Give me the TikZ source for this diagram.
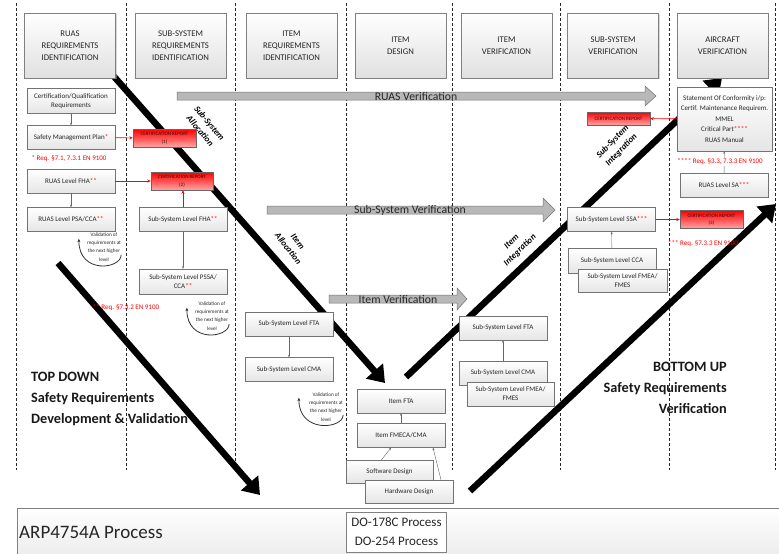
\documentclass[tikz,border=0pt]{standalone}
\usepackage{fontspec}
\setmainfont{Carlito}
\usetikzlibrary{arrows.meta,positioning,shadows}
\newcommand{\sz}[2]{\fontsize{#1}{#2}\selectfont}
\newcommand{\rs}[1]{\textcolor{red}{#1}}
% gray block arrow: x start, x tip, y centre, head length, head half width
\newcommand{\verarrow}[5]{%
  \draw[varrow] (#1,#3-4) -- (#2-#4,#3-4) -- (#2-#4,#3-#5) -- (#2,#3)
    -- (#2-#4,#3+#5) -- (#2-#4,#3+4) -- (#1,#3+4) -- cycle;}

\begin{document}
\begin{tikzpicture}[x=1pt,y=-1pt,
  hdr/.style={draw=black!50, top color=white, bottom color=black!12,
              minimum width=91pt, minimum height=65pt, align=center,
              text=black!85, font=\sz{8.7}{12},
              drop shadow={shadow xshift=1pt, shadow yshift=-1pt, fill=black!30}},
  blk/.style={draw=black!55, top color=white, bottom color=black!10,
              minimum width=88pt, minimum height=24pt, align=center,
              inner sep=1pt, text=black!85, font=\sz{7}{9},
              drop shadow={shadow xshift=0.8pt, shadow yshift=-0.8pt, fill=black!30}},
  cert/.style={draw=black!60, top color=red, bottom color=red!35,
               minimum width=63pt, minimum height=18pt, align=center,
               inner sep=0.5pt, text=black!75!red, font=\sz{5}{7.5},
               drop shadow={shadow xshift=0.8pt, shadow yshift=-0.8pt, fill=black!30}},
  note/.style={text=red, font=\sz{7}{8}, inner sep=0pt},
  valid/.style={align=center, text=black!85, font=\sz{5.2}{8.2}, inner sep=0pt},
  big/.style={font=\bfseries\sz{14.3}{21}, inner sep=0pt, text=black!90},
  lbl/.style={font=\bfseries\itshape\sz{8.8}{12}, align=center, inner sep=0pt},
  col/.style={dash pattern=on 3pt off 2pt, line width=0.7pt, black!85},
  diag/.style={line width=6.5pt, -{Triangle[length=16pt,width=22pt]}},
  varrow/.style={draw=black!55, fill=black!28, line width=0.5pt},
  vtxt/.style={font=\sz{11.7}{13}, text=black!85, inner sep=0pt},
  flow/.style={draw=black!60, line width=0.4pt, -{Stealth[length=2.5pt,width=2pt]}},
  rflow/.style={draw=red, line width=0.6pt, -{Stealth[length=3.5pt,width=3pt]}},
  valarr/.style={draw=black!80, line width=0.8pt, -{Stealth[length=3.5pt,width=3pt]}}
]
\useasboundingbox (0,0) rectangle (779,554);

% column separators
\foreach \cx in {16,126,235,346,452,560,669,775}
  \draw[col] (\cx,3) -- (\cx,470);

% verification arrows
\verarrow{177}{656}{96}{11}{10}
\verarrow{267}{555}{210}{12}{12}
\verarrow{329}{467}{299}{10}{11}
\node[vtxt] (ruasVer) at (416,96) {RUAS Verification};
\node[vtxt] (subVer) at (410,210) {Sub-System Verification};
\node[vtxt] (itemVer) at (398,299) {Item Verification};

% V-shape
\draw[diag] (110,72) -- (385,383);
\draw[diag] (58,263) -- (260,495);
\draw[diag] (406,377) -- (722,78);
\draw[diag] (470,491) -- (776,204);
\node[lbl, rotate=-50] (ssAlloc) at (205,127) {Sub-System\\Allocation};
\node[lbl, rotate=-52] (itAlloc) at (293,245) {Item\\Allocation};
\node[lbl, rotate=44] (itInteg) at (516,246) {Item\\Integration};
\node[lbl, rotate=46] (ssInteg) at (617,146) {Sub-System\\Integration};

% headers
\node[hdr] (hRuas) at (70,45.5) {RUAS\\REQUIREMENTS\\IDENTIFICATION};
\node[hdr] (hSub) at (180.5,45.5) {SUB-SYSTEM\\REQUIREMENTS\\IDENTIFICATION};
\node[hdr] (hItReq) at (291.5,45.5) {ITEM\\REQUIREMENTS\\IDENTIFICATION};
\node[hdr] (hItDes) at (400.5,45.5) {ITEM\\DESIGN};
\node[hdr] (hItVer) at (506.5,45.5) {ITEM\\VERIFICATION};
\node[hdr] (hSubVer) at (613,45.5) {SUB-SYSTEM\\VERIFICATION};
\node[hdr] (hAc) at (722.5,45.5) {AIRCRAFT\\VERIFICATION};

% RUAS requirements
\node[blk, minimum height=25pt] (certReq) at (71,101) {Certification/Qualification\\Requirements};
\node[blk] (smp) at (71,137.5) {Safety Management Plan\rs{*}};
\node[note] (note1) at (69,159) {* Req. \S7.1, 7.3.1 EN 9100};
\node[blk] (ruasFha) at (71,181) {RUAS Level FHA\rs{**}};
\node[blk] (ruasPsa) at (71,219.5) {RUAS Level PSA/CCA\rs{**}};
\node[valid] (val1) at (104,247) {Validation of\\requirements at\\the next higher\\level};

% sub-system requirements
\node[cert] (rep1) at (164.5,138) {CERTIFICATION REPORT\\(1)};
\node[cert, minimum width=62pt] (rep2) at (182,181) {CERTIFICATION REPORT\\(2)};
\node[blk] (ssFha) at (183,219.5) {Sub-System Level FHA\rs{**}};
\node[blk, minimum height=25pt] (ssPssa) at (183,281.5) {Sub-System Level PSSA/\\CCA\rs{**}};
\node[note] (note2) at (126,308) {** Req. \S7.3.2 EN 9100};
\node[valid] (val2) at (212,316) {Validation of\\requirements at\\the next higher\\level};

% item requirements
\node[blk] (ssFta) at (289,324) {Sub-System Level FTA};
\node[blk] (ssCma) at (289,369.5) {Sub-System Level CMA};
\node[valid] (val3) at (326,407) {Validation of\\requirements at\\the next higher\\level};

% item design
\node[blk] (itemFta) at (401,401) {Item FTA};
\node[blk] (itemFmeca) at (401,435.5) {Item FMECA/CMA};
\node[blk, minimum width=87pt, minimum height=23pt] (swDes) at (389.5,471.5) {Software Design};
\node[blk, minimum height=23pt] (hwDes) at (409,491.5) {Hardware Design};

% item verification
\node[blk] (ssFta2) at (503,328) {Sub-System Level FTA};
\node[blk] (ssCma2) at (503,373) {Sub-System Level CMA};
\node[blk, minimum width=87pt] (ssFmea2) at (510.5,394) {Sub-System Level FMEA/\\FMES};

% sub-system verification
\node[cert, minimum height=13pt] (rep0) at (618.5,118.5) {CERTIFICATION REPORT};
\node[blk] (ssSsa) at (611.5,219.5) {Sub-System Level SSA\rs{***}};
\node[blk, minimum height=25pt] (ssCca) at (612,260.5) {Sub-System Level CCA};
\node[blk, minimum width=89pt, minimum height=23pt] (ssFmea) at (622.5,280.5) {Sub-System Level FMEA/\\FMES};

% aircraft verification
\node[blk, minimum width=95pt, minimum height=64pt, font=\sz{7}{10.5}] (soc) at (724.5,119)
  {Statement Of Conformity i/p:\\Certif. Maintenance Requirem.\\MMEL\\Critical Part\rs{****}\\RUAS Manual};
\node[blk] (ruasSa) at (724,185) {RUAS Level SA\rs{***}};
\node[cert] (rep3) at (711.5,219.5) {CERTIFICATION REPORT\\(3)};
\node[note] (note3) at (703,244) {*** Req. \S7.3.3 EN 9100};

% links
\draw[flow] (certReq) -- (smp);
\draw[flow] (ruasFha) -- (ruasPsa);
\draw[rflow] (smp) -- (rep1);
\draw[rflow] (ruasFha) -- (rep2);
\draw[rflow] (ssFha.north) -- (ssFha.north |- rep2.south);
\draw[flow] (ssFha) -- (ssPssa);
\draw[flow] (ssFta) -- (ssCma);
\draw[flow] (itemFmeca) -- (itemFta);
\draw[flow] ([xshift=-8pt]swDes.north) -- ([xshift=-10pt]itemFmeca.south);
\draw[flow] ([xshift=32pt]hwDes.north) -- ([xshift=32pt]itemFmeca.south);
\draw[flow] (ssCma2) -- (ssFta2);
\draw[flow] (ssCca) -- (ssSsa);
\draw[rflow] (ssSsa) -- (rep3);
\draw[flow] (ruasSa) -- (soc);
\node[note, fill=white, inner sep=0.5pt] (note4) at (720,162) {**** Req. \S3.3, 7.3.3 EN 9100};
\draw[rflow] (soc) -- (rep0);

% validation loops
\draw[valarr] ([yshift=-8pt]val1.east) .. controls +(0,14) and +(0,36) .. ([xshift=-8pt,yshift=-6pt]val1.north west);
\draw[valarr] ([yshift=-8pt]val2.east) .. controls +(0,14) and +(0,36) .. ([xshift=-8pt,yshift=-6pt]val2.north west);
\draw[valarr] ([yshift=-8pt]val3.east) .. controls +(0,14) and +(0,36) .. ([xshift=-10pt,yshift=-5pt]val3.north west);

% headline texts
\node[big, anchor=north west, align=left] (topDown) at (31,372)
  {TOP DOWN\\Safety Requirements\\Development \& Validation};
\node[big, anchor=north east, align=right] (bottomUp) at (727,362)
  {BOTTOM UP\\Safety Requirements\\Verification};

% process bar
\draw[draw=black!50, top color=white, bottom color=black!8] (17,508) rectangle (790,560);
\node[anchor=west, font=\sz{19}{20}, text=black!85, inner sep=0pt] (arp) at (19,532) {ARP4754A Process};
\node[draw=black!50, fill=white, align=center, font=\sz{13}{19}, text=black!85,
      minimum width=100pt, minimum height=40pt, inner sep=1pt] (doProc) at (396.5,532)
  {DO-178C Process\\DO-254 Process};
\end{tikzpicture}
\end{document}
